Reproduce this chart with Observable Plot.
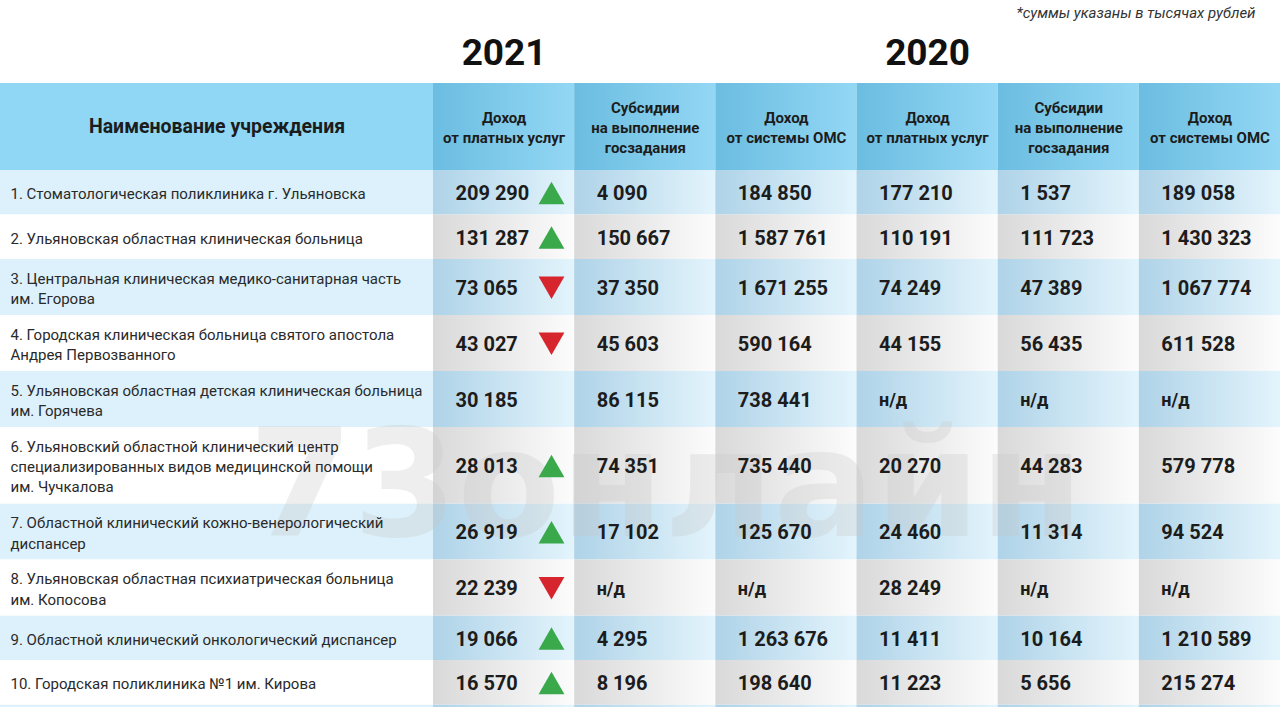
<!DOCTYPE html>
<html>
<head>
<meta charset="utf-8">
<script src="https://cdn.jsdelivr.net/npm/d3@7"></script>
<script src="https://cdn.jsdelivr.net/npm/@observablehq/plot@0.6"></script>
<style>
  html, body { margin: 0; padding: 0; background: #fff; }
  #chart svg { display: block; }
</style>
</head>
<body>
<div id="chart"></div>
<script>
// ---------- DATA ----------
const names = [
  "1. Стоматологическая поликлиника г. Ульяновска",
  "2. Ульяновская областная клиническая больница",
  "3. Центральная клиническая медико-санитарная часть\nим. Егорова",
  "4. Городская клиническая больница святого апостола\nАндрея Первозванного",
  "5. Ульяновская областная детская клиническая больница\nим. Горячева",
  "6. Ульяновский областной клинический центр\nспециализированных видов медицинской помощи\nим. Чучкалова",
  "7. Областной клинический кожно-венерологический\nдиспансер",
  "8. Ульяновская областная психиатрическая больница\nим. Копосова",
  "9. Областной клинический онкологический диспансер",
  "10. Городская поликлиника №1 им. Кирова"
];
const paid2021 = [209290, 131287, 73065, 43027, 30185, 28013, 26919, 22239, 19066, 16570];
const subs2021 = [4090, 150667, 37350, 45603, 86115, 74351, 17102, null, 4295, 8196];
const oms2021  = [184850, 1587761, 1671255, 590164, 738441, 735440, 125670, null, 1263676, 198640];
const paid2020 = [177210, 110191, 74249, 44155, null, 20270, 24460, 28249, 11411, 11223];
const subs2020 = [1537, 111723, 47389, 56435, null, 44283, 11314, null, 10164, 5656];
const oms2020  = [189058, 1430323, 1067774, 611528, null, 579778, 94524, null, 1210589, 215274];

const columnHeaders = [
  "Наименование учреждения",
  "Доход\nот платных услуг",
  "Субсидии\nна выполнение\nгосзадания",
  "Доход\nот системы ОМС",
  "Доход\nот платных услуг",
  "Субсидии\nна выполнение\nгосзадания",
  "Доход\nот системы ОМС"
];
const years = ["2021", "2020"];
const yearColumn = [1, 4];
const footnote = "*суммы указаны в тысячах рублей";
const missingLabel = "н/д";
const watermark = "73онлайн";

// ---------- LAYOUT ----------
const W = 1280, H = 707;
const series = [paid2021, subs2021, oms2021, paid2020, subs2020, oms2020];
const nameColW = 433;
const numColW = (W - nameColW) / series.length;
const colX = c => c === 0 ? 0 : nameColW + (c - 1) * numColW;
const colW = c => c === 0 ? nameColW : numColW;
const headerTop = 83, headerBottom = 170;
const lineH = 20.5, rowPad = 15, minRowH = 44.5;
const numPad = 22;

const rows = [];
let yy = headerBottom;
names.forEach((name, i) => {
  const lines = name.split("\n").length;
  const h = Math.max(minRowH, lines * lineH + rowPad);
  const trend = (paid2020[i] == null) ? 0 : Math.sign(paid2021[i] - paid2020[i]);
  rows.push({i, name, y1: yy, y2: yy + h, yc: yy + h / 2, blue: i % 2 === 0, trend});
  yy += h;
});
// background bands (table continues below the visible edge)
const bands = rows.map(r => ({y1: r.y1, y2: r.y2, blue: r.blue}));
bands.push({y1: yy, y2: yy + minRowH, blue: rows.length % 2 === 0});

const cells = [];
bands.forEach(b => {
  for (let c = 0; c <= series.length; c++) {
    cells.push({c, x1: colX(c), x2: colX(c) + colW(c), y1: b.y1, y2: b.y2, blue: b.blue});
  }
});
const headerCells = columnHeaders.map((t, c) => ({c, t, x1: colX(c), x2: colX(c) + colW(c), y1: headerTop, y2: headerBottom}));

const fmt = v => v == null ? missingLabel : d3.format(",")(v).replace(/,/g, " ");
const numbers = [];
rows.forEach(r => {
  series.forEach((s, k) => {
    numbers.push({x: colX(k + 1) + numPad, y: r.yc + 1, text: fmt(s[r.i]), missing: s[r.i] == null});
  });
});
const tri = rows.filter(r => r.trend !== 0);

const font = "Roboto, 'Noto Sans', 'DejaVu Sans', sans-serif";
const textColor = "#1c1c1c";

const svg = Plot.plot({
  width: W, height: H, margin: 0,
  x: {type: "linear", domain: [0, W], range: [0, W], axis: null},
  y: {type: "linear", domain: [0, H], range: [0, H], axis: null},
  style: {fontFamily: font, background: "#fff", color: textColor, overflow: "hidden"},
  marks: [
    // body cells
    Plot.rect(cells.filter(d => d.c === 0 && d.blue), {x1: "x1", x2: "x2", y1: "y1", y2: "y2", fill: "#dcf1fb"}),
    Plot.rect(cells.filter(d => d.c === 0 && !d.blue), {x1: "x1", x2: "x2", y1: "y1", y2: "y2", fill: "#ffffff"}),
    Plot.rect(cells.filter(d => d.c > 0 && d.blue), {x1: "x1", x2: "x2", y1: "y1", y2: "y2", fill: "url(#gBlue)"}),
    Plot.rect(cells.filter(d => d.c > 0 && !d.blue), {x1: "x1", x2: "x2", y1: "y1", y2: "y2", fill: "url(#gWhite)"}),
    // header cells
    Plot.rect(headerCells.filter(d => d.c === 0), {x1: "x1", x2: "x2", y1: "y1", y2: "y2", fill: "#8fd7f5"}),
    Plot.rect(headerCells.filter(d => d.c > 0), {x1: "x1", x2: "x2", y1: "y1", y2: "y2", fill: "url(#gHead)"}),
    // watermark
    Plot.text([watermark], {
      x: () => W * 0.52, y: () => rows[5].y2 - 16, text: d => d,
      fontSize: 150, fontWeight: 900, fontFamily: "'DejaVu Sans', sans-serif",
      fill: "#c8c8c8", fillOpacity: 0.3, textAnchor: "middle", ariaLabel: "watermark"
    }),
    // header texts
    Plot.text(headerCells.filter(d => d.c === 0), {
      x: d => (d.x1 + d.x2) / 2, y: d => (d.y1 + d.y2) / 2, text: "t",
      fontSize: 19.5, fontWeight: "bold", fill: textColor
    }),
    Plot.text(headerCells.filter(d => d.c > 0), {
      x: d => (d.x1 + d.x2) / 2, y: d => (d.y1 + d.y2) / 2, text: "t",
      fontSize: 15, fontWeight: "bold", lineHeight: 1.33, fill: textColor
    }),
    // years
    Plot.text(years, {
      x: (d, i) => colX(yearColumn[i]) + numColW / 2, y: () => headerTop / 2 + 11, text: d => d,
      fontSize: 37, fontWeight: "bold", fill: "#111"
    }),
    // footnote
    Plot.text([footnote], {
      x: () => W - 25, y: () => 13, text: d => d, textAnchor: "end",
      fontSize: 15, fontStyle: "italic", fill: "#333"
    }),
    // names
    Plot.text(rows, {
      x: () => 10, y: d => d.yc, text: "name", textAnchor: "start",
      fontSize: 15, lineHeight: 1.35, fill: "#2a2a2a"
    }),
    // numbers
    Plot.text(numbers.filter(d => !d.missing), {
      x: "x", y: "y", text: "text", textAnchor: "start",
      fontSize: 20, fontWeight: "bold", fill: textColor
    }),
    Plot.text(numbers.filter(d => d.missing), {
      x: "x", y: "y", text: "text", textAnchor: "start",
      fontSize: 18, fontWeight: "bold", fill: textColor
    }),
    // trend triangles
    Plot.dot(tri, {
      x: () => colX(1) + 118, y: d => d.yc + (d.trend > 0 ? 4 : -3.5),
      symbol: "triangle", r: 9.6, rotate: d => d.trend > 0 ? 0 : 180,
      fill: d => d.trend > 0 ? "#3aa94b" : "#d6252d", stroke: "none"
    })
  ]
});

// gradients
const defs = d3.select(svg).insert("defs", ":first-child");
function grad(id, c1, c2) {
  const g = defs.append("linearGradient").attr("id", id)
    .attr("x1", "0").attr("x2", "1").attr("y1", "0").attr("y2", "0");
  g.append("stop").attr("offset", "0").attr("stop-color", c1);
  g.append("stop").attr("offset", "1").attr("stop-color", c2);
}
grad("gHead", "#6bbde1", "#93d7f4");
grad("gBlue", "#afd3e8", "#e3f4fc");
grad("gWhite", "#d9d9d9", "#fcfcfc");

d3.select(svg).selectAll("g[aria-label=watermark] text")
  .attr("textLength", 880).attr("lengthAdjust", "spacingAndGlyphs");

document.getElementById("chart").appendChild(svg);
</script>
</body>
</html>
